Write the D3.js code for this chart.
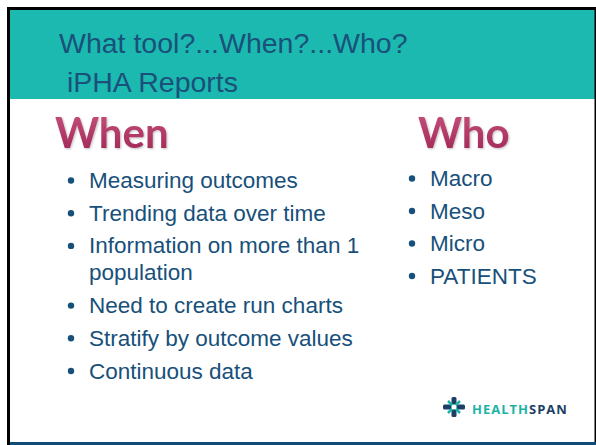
<!DOCTYPE html>
<html>
<head>
<meta charset="utf-8">
<script src="https://cdn.jsdelivr.net/npm/d3@7"></script>
<style>
  html, body { margin: 0; padding: 0; background: #fff; }
  svg { display: block; }
</style>
</head>
<body>
<svg></svg>
<script>
// slide content
const titleLines = ['What tool?...When?...Who?', ' iPHA Reports'];
const headings = ['When', 'Who'];
const whenItems = [
  ['Measuring outcomes'],
  ['Trending data over time'],
  ['Information on more than 1', 'population'],
  ['Need to create run charts'],
  ['Stratify by outcome values'],
  ['Continuous data']
];
const whoItems = [['Macro'], ['Meso'], ['Micro'], ['PATIENTS']];
const logoParts = ['HEALTH', 'SPAN'];

const width = 596, height = 445;
const teal = '#1bb9b0';
const navy = '#17507a';

const svg = d3.select('svg')
  .attr('width', width)
  .attr('height', height);

const defs = svg.append('defs');
const grad = defs.append('linearGradient')
  .attr('id', 'headGrad')
  .attr('x1', 0).attr('y1', 0).attr('x2', 0).attr('y2', 1);
grad.append('stop').attr('offset', '0%').attr('stop-color', '#c9557f');
grad.append('stop').attr('offset', '100%').attr('stop-color', '#9e2454');

const glow = defs.append('filter').attr('id', 'glow')
  .attr('x', '-10%').attr('y', '-20%').attr('width', '120%').attr('height', '140%');
glow.append('feGaussianBlur').attr('in', 'SourceAlpha').attr('stdDeviation', 1.2).attr('result', 'b');
glow.append('feOffset').attr('in', 'b').attr('dx', 0.5).attr('dy', 1).attr('result', 'o');
glow.append('feComponentTransfer').attr('in', 'o').attr('result', 's')
  .append('feFuncA').attr('type', 'linear').attr('slope', 0.25);
const merge = glow.append('feMerge');
merge.append('feMergeNode').attr('in', 's');
merge.append('feMergeNode').attr('in', 'SourceGraphic');

// frame
svg.append('rect').attr('x', 10).attr('y', 10).attr('width', 585).attr('height', 89).attr('fill', teal);
svg.append('rect').attr('x', 7).attr('y', 7).attr('width', 589).attr('height', 3).attr('fill', '#000');
svg.append('rect').attr('x', 7).attr('y', 7).attr('width', 3).attr('height', 438).attr('fill', '#000');
svg.append('rect').attr('x', 594.5).attr('y', 7).attr('width', 1.5).attr('height', 438).attr('fill', '#000');
svg.append('rect').attr('x', 10).attr('y', 442).attr('width', 586).attr('height', 3).attr('fill', '#0e4d7a');

// title
const titleY = d3.scaleLinear().domain([0, 1]).range([53, 92]);
svg.append('g').selectAll('text')
  .data(titleLines)
  .join('text')
  .attr('x', 59)
  .attr('y', (d, i) => titleY(i))
  .attr('font-family', 'Liberation Sans, Arial, sans-serif')
  .attr('font-size', 28.5)
  .attr('fill', '#1a5079')
  .attr('xml:space', 'preserve')
  .style('white-space', 'pre')
  .text(d => d);

// headings
const headX = [55, 418];
svg.append('g').selectAll('text')
  .data(headings)
  .join('text')
  .attr('x', (d, i) => headX[i])
  .attr('y', 148)
  .attr('font-family', 'Lato, Open Sans, sans-serif')
  .attr('font-weight', 'bold')
  .attr('font-size', 42)
  .attr('fill', 'url(#headGrad)')
  .attr('filter', 'url(#glow)')
  .text(d => d);

// bullet lists
function drawList(items, bulletX, textX, y0, step, wrapStep) {
  const y = d3.scaleLinear().domain([0, 1]).range([y0, y0 + step]);
  let extra = 0;
  const rows = [];
  items.forEach((lines, i) => {
    lines.forEach((line, j) => {
      rows.push({ text: line, first: j === 0, y: y(i) + (extra + j) * wrapStep });
    });
    extra += lines.length - 1;
  });
  const g = svg.append('g');
  g.selectAll('circle')
    .data(rows.filter(r => r.first))
    .join('circle')
    .attr('cx', bulletX)
    .attr('cy', d => d.y - 7.5)
    .attr('r', 3.2)
    .attr('fill', navy);
  g.selectAll('text')
    .data(rows)
    .join('text')
    .attr('x', textX)
    .attr('y', d => d.y)
    .attr('font-family', 'Liberation Sans, Arial, sans-serif')
    .attr('font-size', 22.5)
    .attr('fill', navy)
    .text(d => d.text);
}
drawList(whenItems, 71, 89, 188, 32.7, 27);
drawList(whoItems, 412, 430, 186, 32.5, 27);

// logo
const logo = svg.append('g').attr('transform', 'translate(454,407)');
logo.append('path')
  .attr('d', 'M-2,-10 C-2,-5 -5,-3 -10,-2 L-10,2 C-5,3 -2,5 -2,10 L2,10 C2,5 5,3 10,2 L10,-2 C5,-3 2,-5 2,-10 Z')
  .attr('fill', 'none');
logo.append('rect').attr('x', -2.5).attr('y', -10).attr('width', 5).attr('height', 20).attr('rx', 1.5).attr('fill', '#1d3f66');
logo.append('rect').attr('x', -11).attr('y', -2.5).attr('width', 22).attr('height', 5).attr('rx', 1.5).attr('fill', '#1d3f66');
logo.append('path')
  .attr('d', 'M-6,-6 Q0,0 6,6 M6,-6 Q0,0 -6,6')
  .attr('stroke', '#1bb3a6').attr('stroke-width', 2.5).attr('fill', 'none');
logo.append('circle').attr('r', 2.5).attr('fill', '#fff');

const logoText = svg.append('text')
  .attr('x', 472)
  .attr('y', 414)
  .attr('font-family', 'Open Sans, DejaVu Sans, sans-serif')
  .attr('font-weight', 'bold')
  .attr('font-size', 13)
  .attr('letter-spacing', 1);
logoText.selectAll('tspan')
  .data(logoParts)
  .join('tspan')
  .attr('fill', (d, i) => i === 0 ? '#1bb3a6' : '#1d3f66')
  .text(d => d);
</script>
</body>
</html>
